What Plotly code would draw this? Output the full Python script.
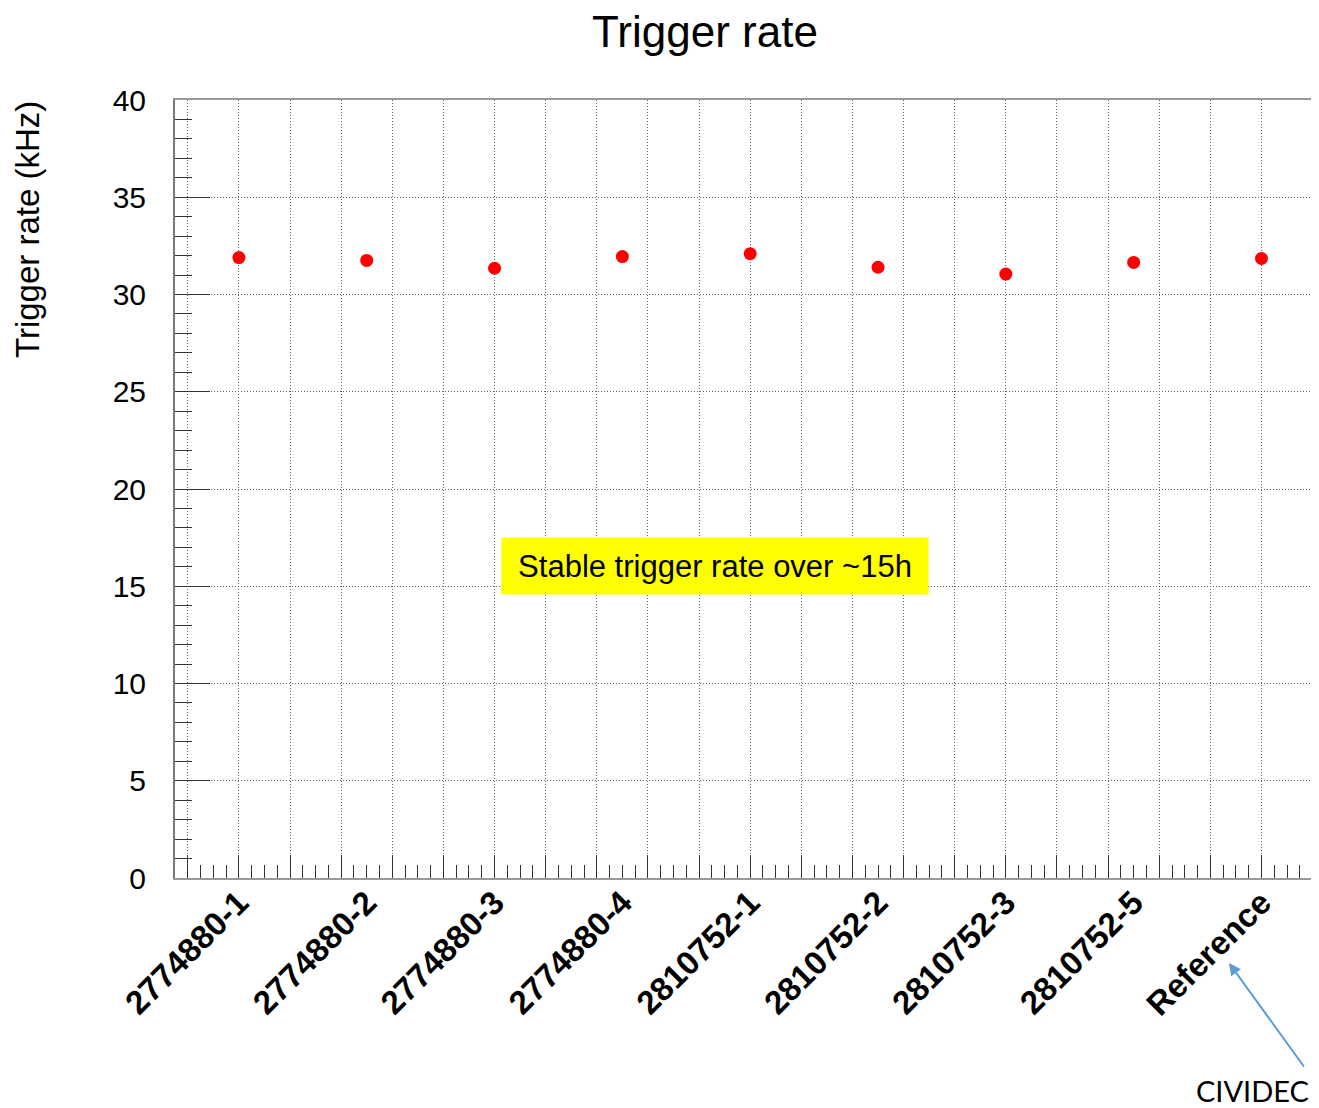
import plotly.graph_objects as go

categories = ["2774880-1", "2774880-2", "2774880-3", "2774880-4",
              "2810752-1", "2810752-2", "2810752-3", "2810752-5", "Reference"]
trigger_rate_khz = [31.9, 31.75, 31.35, 31.95, 32.1, 31.4, 31.05, 31.65, 31.85]

title_text = "Trigger rate"
y_title = "Trigger rate (kHz)"
note_text = "Stable trigger rate over ~15h"
arrow_text = "CIVIDEC"

# page has an 8px body margin: figure origin sits at (8, 8)
W, H = 1311, 1100
ML, MT, MB = 167, 92, 230
PW = W - ML          # plot width
PH = H - MT - MB     # plot height


def px_to_paper_x(px):
    return (px - 8 - ML) / PW


def px_to_paper_y(py):
    return (H - MB - (py - 8)) / PH


fig = go.Figure()
fig.add_trace(go.Scatter(
    x=categories, y=trigger_rate_khz, mode="markers",
    marker=dict(color="#ff0000", size=13, line=dict(width=0)),
    showlegend=False, xaxis="x", yaxis="y",
))
# helper (empty) trace to carry the ROOT-style binned grid axis
fig.add_trace(go.Scatter(x=[], y=[], xaxis="x2", yaxis="y", showlegend=False,
                         hoverinfo="skip"))

font_main = "Liberation Sans, Arial, sans-serif"
grid_dash = "1px,2px"

fig.update_layout(
    width=W, height=H,
    margin=dict(l=ML, r=0, t=MT, b=MB),
    paper_bgcolor="white", plot_bgcolor="white",
    title=dict(text=title_text, x=697 / W, xanchor="center", y=1 - 24 / H,
               yanchor="middle", yref="container",
               font=dict(family=font_main, size=44, color="black")),
    xaxis=dict(
        type="category", range=[-0.5, 8.45],
        showgrid=False, zeroline=False,
        ticks="", tickangle=-45, ticklabelstandoff=-10,
        tickfont=dict(family=font_main, size=33, color="black", weight="bold"),
        showline=True, linecolor="#999999", linewidth=2, mirror=True,
    ),
    xaxis2=dict(
        overlaying="x", anchor="y", range=[0, 8.95],
        showticklabels=False, tick0=0.1, dtick=0.4,
        ticks="inside", ticklen=23, tickcolor="#333333", tickwidth=1,
        showgrid=True, griddash=grid_dash, gridcolor="#666666", gridwidth=1,
        zeroline=False,
        minor=dict(dtick=0.1, tick0=0.1, ticks="inside", ticklen=13,
                   tickcolor="#333333", tickwidth=1, showgrid=False),
    ),
    yaxis=dict(
        range=[0, 40], tick0=0, dtick=5,
        ticks="inside", ticklen=35, tickcolor="#333333", tickwidth=1,
        showgrid=True, griddash=grid_dash, gridcolor="#666666", gridwidth=1,
        zeroline=False,
        showline=True, linecolor="#777777", linewidth=2,
        tickfont=dict(family=font_main, size=30, color="black"),
        ticklabelstandoff=21,
        minor=dict(dtick=1, ticks="inside", ticklen=17, tickcolor="#333333",
                   tickwidth=1, showgrid=False),
    ),
    annotations=[
        dict(text=y_title, xref="paper", yref="paper",
             x=px_to_paper_x(27), y=px_to_paper_y(230),
             xanchor="center", yanchor="middle", textangle=-90, showarrow=False,
             font=dict(family=font_main, size=33, color="black")),
        dict(text=note_text, xref="paper", yref="paper",
             x=px_to_paper_x(715), y=px_to_paper_y(566),
             xanchor="center", yanchor="middle", showarrow=False,
             bgcolor="#ffff00", width=416, height=46, borderpad=5,
             font=dict(family=font_main, size=31, color="black")),
        dict(text="", xref="paper", yref="paper",
             x=px_to_paper_x(1229), y=px_to_paper_y(963),
             showarrow=True, axref="pixel", ayref="pixel",
             ax=76, ay=105, arrowcolor="#5b9bd5", arrowwidth=2, arrowhead=2,
             arrowsize=1.2, standoff=0),
        dict(text=arrow_text, xref="paper", yref="paper",
             x=px_to_paper_x(1252), y=px_to_paper_y(1090),
             xanchor="center", yanchor="middle",
             showarrow=False, font=dict(family="Lato, Open Sans, sans-serif",
                                        size=29, color="black")),
    ],
)

fig.write_html("out.html")
